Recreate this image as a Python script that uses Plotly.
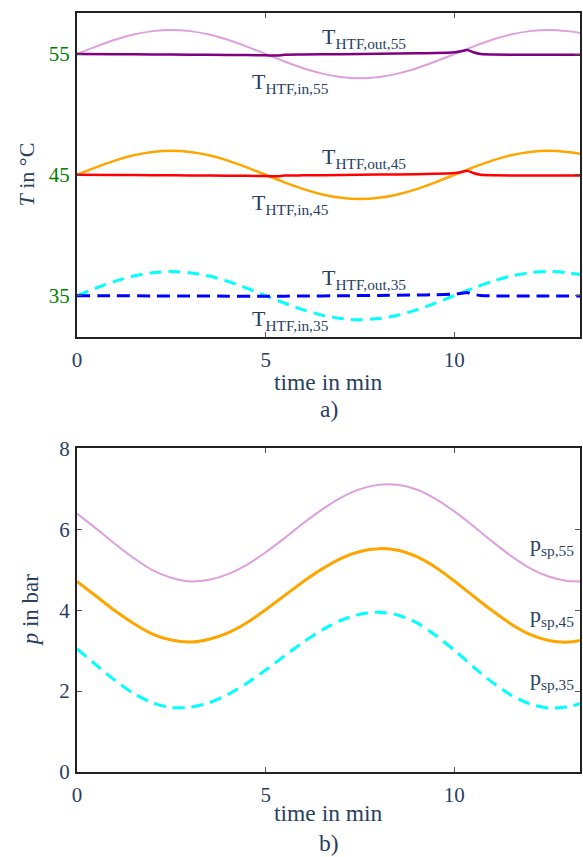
import plotly.graph_objects as go

# ---- data -------------------------------------------------------------
time_min = [0, 0.5, 1, 1.5, 2, 2.5, 3, 3.5, 4, 4.5, 5, 5.5, 6, 6.5, 7, 7.5,
            8, 8.5, 9, 9.5, 10, 10.5, 11, 11.5, 12, 12.5, 13, 13.33]

T_in_55 = [55.00, 55.62, 56.18, 56.62, 56.90, 57.00, 56.90, 56.62, 56.18, 55.62,
           55.00, 54.38, 53.82, 53.38, 53.10, 53.00, 53.10, 53.38, 53.82, 54.38,
           55.00, 55.62, 56.18, 56.62, 56.90, 57.00, 56.90, 56.75]
T_in_45 = [45.00, 45.62, 46.18, 46.62, 46.90, 47.00, 46.90, 46.62, 46.18, 45.62,
           45.00, 44.38, 43.82, 43.38, 43.10, 43.00, 43.10, 43.38, 43.82, 44.38,
           45.00, 45.62, 46.18, 46.62, 46.90, 47.00, 46.90, 46.75]
T_in_35 = [35.00, 35.62, 36.18, 36.62, 36.90, 37.00, 36.90, 36.62, 36.18, 35.62,
           35.00, 34.38, 33.82, 33.38, 33.10, 33.00, 33.10, 33.38, 33.82, 34.38,
           35.00, 35.62, 36.18, 36.62, 36.90, 37.00, 36.90, 36.75]

time_out = [0, 1, 2, 3, 4, 5, 5.3, 5.5, 6, 7, 8, 9, 9.5, 10, 10.2, 10.35,
            10.5, 10.7, 11, 12, 13.33]
T_out_55 = [55.00, 54.99, 54.97, 54.95, 54.93, 54.90, 54.88, 54.94, 54.96, 54.99,
            55.02, 55.06, 55.09, 55.16, 55.25, 55.33, 55.15, 55.00, 54.96, 54.95, 54.95]
T_out_45 = [45.00, 44.99, 44.97, 44.95, 44.93, 44.90, 44.88, 44.94, 44.96, 44.99,
            45.02, 45.06, 45.09, 45.16, 45.25, 45.33, 45.15, 45.00, 44.96, 44.95, 44.95]
T_out_35 = [35.00, 34.99, 34.98, 34.97, 34.96, 34.95, 34.94, 34.96, 34.97, 34.99,
            35.02, 35.05, 35.08, 35.13, 35.20, 35.25, 35.12, 35.01, 34.98, 34.97, 34.97]

p_sp_55 = [6.39, 6.02, 5.64, 5.29, 4.99, 4.80, 4.71, 4.75, 4.89, 5.12, 5.43, 5.78,
           6.15, 6.49, 6.78, 6.99, 7.10, 7.10, 6.98, 6.75, 6.44, 6.08, 5.70, 5.34,
           5.04, 4.83, 4.72, 4.71]
p_sp_45 = [4.71, 4.35, 3.99, 3.67, 3.41, 3.26, 3.21, 3.28, 3.44, 3.69, 4.01, 4.36,
           4.71, 5.02, 5.28, 5.45, 5.52, 5.48, 5.32, 5.06, 4.72, 4.35, 3.99, 3.66,
           3.40, 3.25, 3.21, 3.25]
p_sp_35 = [3.04, 2.65, 2.27, 1.94, 1.71, 1.59, 1.60, 1.71, 1.92, 2.19, 2.52, 2.87,
           3.21, 3.51, 3.75, 3.90, 3.95, 3.88, 3.69, 3.38, 3.01, 2.60, 2.22, 1.90,
           1.68, 1.58, 1.61, 1.69]

T_ticks = [35, 45, 55]
p_ticks = [0, 2, 4, 6, 8]
t_ticks = [0, 5, 10]

FONT = "Liberation Serif, Times New Roman, Times, serif"
INK = "#2a3f5f"

fig = go.Figure()


def line(x, y, color, width, dash="solid", axes=("x", "y")):
    fig.add_trace(go.Scatter(
        x=x, y=y, mode="lines", xaxis=axes[0], yaxis=axes[1],
        line=dict(color=color, width=width, dash=dash, shape="spline", smoothing=0.6),
        showlegend=False, hoverinfo="skip"))


# panel a) temperatures
line(time_min, T_in_55, "plum", 2)
line(time_out, T_out_55, "purple", 2.5)
line(time_min, T_in_45, "orange", 2.5)
line(time_out, T_out_45, "red", 2.5)
line(time_min, T_in_35, "cyan", 3, "12px,7px")
line(time_out, T_out_35, "blue", 3, "13px,7px")

# panel b) pressures
line(time_min, p_sp_55, "plum", 2, axes=("x2", "y2"))
line(time_min, p_sp_45, "orange", 3, axes=("x2", "y2"))
line(time_min, p_sp_35, "cyan", 3, "12px,7px", axes=("x2", "y2"))

axis_common = dict(
    showline=True, linecolor="#222", linewidth=2, mirror="ticks",
    ticks="inside", ticklen=5, tickcolor="#555", tickwidth=1,
    showgrid=False, zeroline=False,
    tickfont=dict(family=FONT, size=21, color=INK),
)

top_dom = [0.5735, 1.0]
bot_dom = [0.0, 0.4265]

fig.update_layout(
    width=583, height=857,
    margin=dict(l=77, r=1, t=10, b=85),
    paper_bgcolor="white", plot_bgcolor="white",
    font=dict(family=FONT, color=INK),
    xaxis=dict(axis_common, domain=[0, 1], range=[0, 13.33], anchor="y",
               tickvals=t_ticks, ticklabelstandoff=3),
    yaxis=dict(axis_common, domain=top_dom, range=[31.6, 58.4], anchor="x",
               tickvals=T_ticks, ticklabelstandoff=1,
               tickfont=dict(family=FONT, size=21, color="green")),
    xaxis2=dict(axis_common, domain=[0, 1], range=[0, 13.33], anchor="y2",
                tickvals=t_ticks, ticklabelstandoff=3),
    yaxis2=dict(axis_common, domain=bot_dom, range=[0, 8], anchor="x2",
                tickvals=p_ticks, ticklabelstandoff=1),
)

ann = []


def label(text, x, y, xref, yref, size=22, xanchor="left", yanchor="middle", angle=0):
    ann.append(dict(text=text, x=x, y=y, xref=xref, yref=yref, showarrow=False,
                    xanchor=xanchor, yanchor=yanchor, textangle=angle,
                    font=dict(family=FONT, size=size, color=INK)))


# curve labels
label("T<sub>HTF,out,55</sub>", 6.45, 56.35, "x", "y")
label("T<sub>HTF,in,55</sub>", 4.58, 52.6, "x", "y")
label("T<sub>HTF,out,45</sub>", 6.45, 46.38, "x", "y")
label("T<sub>HTF,in,45</sub>", 4.58, 42.58, "x", "y")
label("T<sub>HTF,out,35</sub>", 6.45, 36.35, "x", "y")
label("T<sub>HTF,in,35</sub>", 4.58, 32.95, "x", "y")
label("p<sub>sp,55</sub>", 11.95, 5.62, "x2", "y2")
label("p<sub>sp,45</sub>", 11.95, 3.85, "x2", "y2")
label("p<sub>sp,35</sub>", 11.95, 2.3, "x2", "y2")

# axis titles and panel captions
label("time in min", 0.5, 0.5144, "paper", "paper", size=23.5, xanchor="center")
label("a)", 0.5, 0.4777, "paper", "paper", size=23.5, xanchor="center")
label("time in min", 0.5, -0.0538, "paper", "paper", size=23.5, xanchor="center")
label("b)", 0.5, -0.0932, "paper", "paper", size=23.5, xanchor="center")
label("<i>T</i> in °C", -0.10, 0.7868, "paper", "paper", xanchor="center", angle=-90)
label("<i>p</i> in bar", -0.093, 0.2133, "paper", "paper", size=23, xanchor="center", angle=-90)

fig.update_layout(annotations=ann)

fig.write_html("out.html")
